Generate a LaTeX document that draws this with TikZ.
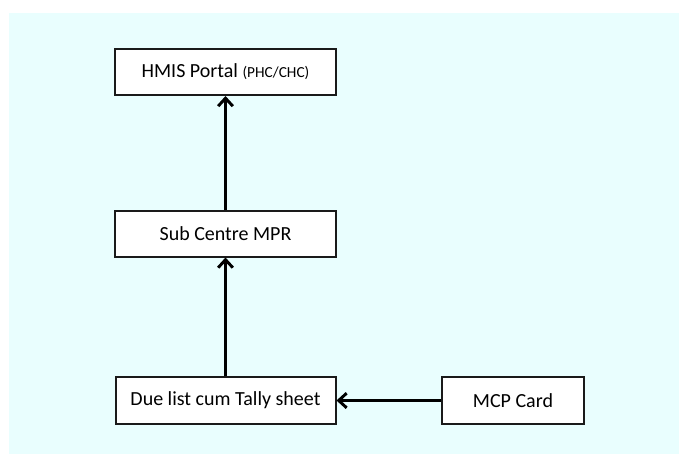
\documentclass[tikz,border=0pt]{standalone}
\usepackage{fontspec}
\setmainfont{Carlito}
\usetikzlibrary{arrows.meta}
\definecolor{panel}{HTML}{E9FEFE}
\definecolor{edge}{HTML}{1A1A1A}
\tikzset{
  flowbox/.style={draw=edge, line width=1.5pt, fill=white, inner sep=0pt,
    font=\fontsize{15}{18}\selectfont, text=black},
  flowarrow/.style={line width=2.4pt, -{Straight Barb[length=6pt, width=11pt, line width=2.2pt]}}
}
\begin{document}
\begin{tikzpicture}[x=0.75pt, y=-0.75pt]
  \useasboundingbox (0,0) rectangle (679,454);
  \fill[panel] (9,13) rectangle (679,454);

  \node[flowbox, minimum width=221*0.75pt, minimum height=46*0.75pt] (hmis) at (225.5,72)
    {HMIS Portal {\fontsize{11.5}{13}\selectfont(PHC/CHC)}};
  \node[flowbox, minimum width=221*0.75pt, minimum height=46*0.75pt] (sub) at (225.5,233.5)
    {Sub Centre MPR};
  \node[flowbox, minimum width=220*0.75pt, minimum height=47*0.75pt] (due) at (225.5,400.5)
    {Due list cum Tally sheet};
  \node[flowbox, minimum width=142*0.75pt, minimum height=47*0.75pt] (mcp) at (513,400.5)
    {MCP Card};

  \draw[flowarrow] (due.north) -- (sub.south);
  \draw[flowarrow] (sub.north) -- (hmis.south);
  \draw[flowarrow] (mcp.west) -- (due.east);
\end{tikzpicture}
\end{document}
